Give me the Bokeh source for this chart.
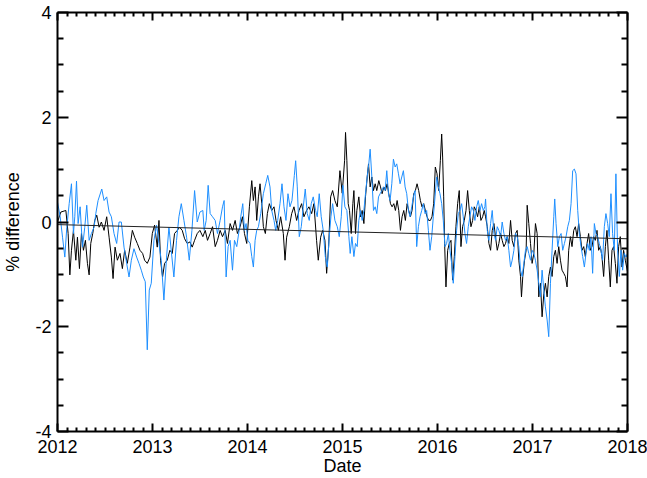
from bokeh.plotting import figure
from bokeh.models import LinearAxis, FixedTicker, Range1d, CustomLabelingPolicy
from bokeh.embed import file_html
from bokeh.resources import INLINE

# --- data: decimal year, % difference ---
black_pts = [
    (2012.000, 0.00), (2012.035, 0.19), (2012.088, 0.22), (2012.112, -0.22), (2012.130, -1.01),
    (2012.147, -0.54), (2012.168, -0.16), (2012.193, -0.73), (2012.210, -0.29), (2012.231, -0.89),
    (2012.252, -0.22), (2012.273, -0.54), (2012.294, -0.35), (2012.315, -0.79), (2012.333, -1.01),
    (2012.350, -0.41), (2012.371, -0.22), (2012.392, 0.03), (2012.413, 0.13), (2012.438, -0.10),
    (2012.462, 0.00), (2012.490, -0.16), (2012.518, 0.10), (2012.543, -0.29), (2012.567, -0.67),
    (2012.585, -1.08), (2012.606, -0.48), (2012.630, -0.73), (2012.658, -0.60), (2012.683, -0.89),
    (2012.707, -0.54), (2012.735, -0.79), (2012.763, -0.48), (2012.788, -0.16), (2012.812, -0.29),
    (2012.840, -0.41), (2012.868, -0.54), (2012.896, -0.60), (2012.917, -0.73), (2012.945, -0.79),
    (2012.973, -0.67), (2012.998, -0.22), (2013.022, -0.06), (2013.050, -0.48), (2013.068, 0.03),
    (2013.085, -0.73), (2013.106, -1.05), (2013.127, -0.79), (2013.155, -0.73), (2013.183, -0.54),
    (2013.208, -0.60), (2013.232, -0.22), (2013.261, -0.16), (2013.285, -0.10), (2013.313, -0.16),
    (2013.338, -0.32), (2013.366, -0.41), (2013.394, -0.38), (2013.418, -0.48), (2013.443, -0.35),
    (2013.471, -0.22), (2013.499, -0.16), (2013.530, -0.28), (2013.555, -0.16), (2013.579, -0.35),
    (2013.607, -0.22), (2013.632, -0.09), (2013.660, -0.47), (2013.684, -0.35), (2013.712, -0.16),
    (2013.737, -0.28), (2013.765, -0.16), (2013.789, -0.41), (2013.817, -0.03), (2013.842, -0.16),
    (2013.870, 0.03), (2013.894, -0.22), (2013.922, -0.09), (2013.947, 0.10), (2013.968, -0.22),
    (2013.992, -0.41), (2014.020, 0.29), (2014.045, 0.79), (2014.062, 0.41), (2014.080, 0.67),
    (2014.097, 0.03), (2014.115, 0.48), (2014.132, 0.73), (2014.150, 0.35), (2014.167, -0.09),
    (2014.188, -0.22), (2014.209, 0.16), (2014.230, 0.35), (2014.255, 0.22), (2014.279, 0.29),
    (2014.300, 0.03), (2014.325, -0.16), (2014.349, 0.10), (2014.377, -0.22), (2014.395, -0.73),
    (2014.412, -0.29), (2014.440, -0.09), (2014.465, 0.16), (2014.489, 0.29), (2014.517, 0.03),
    (2014.542, 0.22), (2014.570, 0.35), (2014.594, 0.10), (2014.622, 0.22), (2014.647, 0.29),
    (2014.675, 0.16), (2014.699, 0.35), (2014.727, -0.35), (2014.745, -0.73), (2014.770, -0.29),
    (2014.791, -0.16), (2014.815, -0.35), (2014.833, -0.98), (2014.854, -0.47), (2014.875, 0.48),
    (2014.896, 0.60), (2014.920, 0.41), (2014.945, 0.29), (2014.973, 0.98), (2014.997, 0.55),
    (2015.022, 1.17), (2015.032, 1.71), (2015.046, 1.17), (2015.060, 0.35), (2015.074, 0.22),
    (2015.092, -0.22), (2015.109, 0.35), (2015.120, 0.60), (2015.137, -0.22), (2015.151, 0.22),
    (2015.172, 0.48), (2015.190, 0.10), (2015.207, 0.22), (2015.225, -0.03), (2015.242, 0.48),
    (2015.260, 0.86), (2015.274, 1.11), (2015.291, 0.67), (2015.309, 0.86), (2015.326, 0.60),
    (2015.344, 0.73), (2015.361, 0.60), (2015.382, 0.79), (2015.400, 0.67), (2015.417, 0.54),
    (2015.435, 0.67), (2015.452, 0.60), (2015.470, 0.73), (2015.487, 0.54), (2015.505, 0.35),
    (2015.522, 0.29), (2015.540, 0.35), (2015.557, 0.22), (2015.575, 0.41), (2015.592, 0.22),
    (2015.610, -0.16), (2015.627, 0.10), (2015.645, 0.22), (2015.662, 0.03), (2015.680, 0.35),
    (2015.697, 0.22), (2015.715, 0.10), (2015.732, 0.22), (2015.750, 0.54), (2015.767, 0.60),
    (2015.785, 0.73), (2015.802, 0.60), (2015.820, 0.41), (2015.837, 0.29), (2015.855, 0.35),
    (2015.872, 0.22), (2015.890, 0.10), (2015.907, 0.03), (2015.925, 0.03), (2015.942, 0.10),
    (2015.960, 0.35), (2015.977, 1.05), (2015.995, 0.92), (2016.012, 0.60), (2016.030, 1.17),
    (2016.044, 1.68), (2016.054, 1.24), (2016.065, 0.48), (2016.075, -0.41), (2016.089, -1.24),
    (2016.107, -0.54), (2016.124, -0.41), (2016.142, -0.35), (2016.159, -1.11), (2016.177, -0.66),
    (2016.194, -0.09), (2016.212, 0.35), (2016.229, 0.60), (2016.247, -0.47), (2016.264, -0.09),
    (2016.282, 0.03), (2016.300, 0.22), (2016.317, 0.60), (2016.335, 0.22), (2016.352, -0.09),
    (2016.370, 0.03), (2016.387, 0.29), (2016.405, 0.22), (2016.422, 0.10), (2016.440, 0.29),
    (2016.457, 0.03), (2016.475, 0.10), (2016.492, 0.22), (2016.506, 0.10), (2016.524, -0.09),
    (2016.541, -0.41), (2016.559, -0.54), (2016.576, -0.16), (2016.594, -0.03), (2016.611, -0.29),
    (2016.629, -0.54), (2016.646, -0.41), (2016.664, -0.22), (2016.681, -0.35), (2016.699, -0.47),
    (2016.716, -0.41), (2016.734, -0.28), (2016.751, -0.41), (2016.769, 0.03), (2016.786, -0.35),
    (2016.804, -0.47), (2016.821, -0.22), (2016.839, -0.16), (2016.856, -0.73), (2016.874, -1.04),
    (2016.884, -1.43), (2016.898, -1.04), (2016.916, -0.73), (2016.933, -0.54), (2016.944, 0.32),
    (2016.961, -0.03), (2016.979, -0.41), (2016.996, -0.79), (2017.014, -0.60), (2017.031, -0.03),
    (2017.049, -0.22), (2017.066, -1.43), (2017.084, -1.17), (2017.101, -1.81), (2017.119, -1.37),
    (2017.136, -1.17), (2017.154, -1.43), (2017.171, -1.04), (2017.189, -0.86), (2017.206, -1.04),
    (2017.224, -0.66), (2017.241, -0.54), (2017.259, -0.79), (2017.276, -0.47), (2017.294, -0.73),
    (2017.311, -0.92), (2017.329, -0.98), (2017.346, -1.04), (2017.364, -1.24), (2017.381, -0.54),
    (2017.399, -0.28), (2017.416, -0.47), (2017.434, -0.16), (2017.451, -0.09), (2017.469, -0.28),
    (2017.486, -0.03), (2017.504, -0.28), (2017.521, -0.54), (2017.539, -0.47), (2017.556, -0.66),
    (2017.574, -0.41), (2017.591, -0.22), (2017.609, -0.54), (2017.626, -0.47), (2017.644, -0.28),
    (2017.661, -0.35), (2017.679, -0.16), (2017.696, -0.54), (2017.714, -0.47), (2017.731, -0.66),
    (2017.749, -1.04), (2017.767, -0.47), (2017.784, -0.16), (2017.802, -0.73), (2017.819, -1.24),
    (2017.837, -0.54), (2017.854, -0.47), (2017.872, -0.79), (2017.889, -1.17), (2017.907, -0.47),
    (2017.924, -0.28), (2017.942, -0.86), (2017.959, -0.54), (2017.977, -0.73), (2018.000, -0.95),
]

blue_pts = [
    (2012.000, 0.38), (2012.028, 0.10), (2012.053, -0.29), (2012.077, -0.67), (2012.098, -0.10),
    (2012.123, 0.35), (2012.147, 0.73), (2012.168, -0.22), (2012.182, 0.10), (2012.200, 0.78),
    (2012.217, -0.03), (2012.238, 0.29), (2012.263, -0.48), (2012.287, -0.10), (2012.308, 0.32),
    (2012.333, -0.35), (2012.357, -0.22), (2012.385, -0.10), (2012.403, 0.16), (2012.427, 0.41),
    (2012.466, 0.63), (2012.490, 0.41), (2012.518, 0.48), (2012.543, 0.19), (2012.567, 0.10),
    (2012.595, -0.22), (2012.623, -0.41), (2012.648, 0.00), (2012.672, 0.00), (2012.700, -0.48),
    (2012.728, -0.79), (2012.753, -1.05), (2012.777, -0.73), (2012.805, -0.51), (2012.833, -0.67),
    (2012.858, -0.79), (2012.882, -0.92), (2012.903, -1.05), (2012.924, -1.14), (2012.945, -2.44),
    (2012.966, -1.30), (2012.987, -1.17), (2013.015, -0.35), (2013.043, -0.06), (2013.068, -0.41),
    (2013.092, -0.73), (2013.120, -1.49), (2013.148, -0.67), (2013.173, -0.10), (2013.197, -0.54),
    (2013.225, -1.05), (2013.253, -0.35), (2013.278, 0.10), (2013.303, 0.35), (2013.331, 0.03),
    (2013.359, -0.29), (2013.387, -0.73), (2013.415, -0.16), (2013.443, 0.60), (2013.471, 0.00),
    (2013.499, 0.19), (2013.530, 0.22), (2013.544, -0.16), (2013.565, 0.03), (2013.586, 0.70),
    (2013.607, 0.16), (2013.632, 0.10), (2013.660, 0.03), (2013.684, -0.22), (2013.712, 0.03),
    (2013.737, 0.29), (2013.754, 0.41), (2013.775, -1.05), (2013.796, -0.47), (2013.817, -0.35),
    (2013.842, -0.92), (2013.863, -0.35), (2013.887, -0.47), (2013.912, -0.16), (2013.929, 0.10),
    (2013.950, 0.35), (2013.968, -0.16), (2013.985, -0.03), (2014.003, -0.35), (2014.027, -0.41),
    (2014.045, -0.66), (2014.062, -0.86), (2014.080, -0.35), (2014.097, -0.16), (2014.115, -0.09),
    (2014.139, 0.16), (2014.167, 0.54), (2014.192, 0.73), (2014.213, 0.89), (2014.237, 0.67),
    (2014.255, 0.22), (2014.279, 0.03), (2014.297, -0.16), (2014.318, 0.03), (2014.342, 0.35),
    (2014.363, 0.73), (2014.384, 0.29), (2014.405, 0.03), (2014.426, 0.54), (2014.447, 0.29),
    (2014.468, 0.41), (2014.493, 0.89), (2014.507, 1.17), (2014.524, 0.67), (2014.545, -0.28),
    (2014.566, -0.09), (2014.587, 0.29), (2014.608, 0.63), (2014.629, 0.16), (2014.650, 0.03),
    (2014.671, 0.35), (2014.692, 0.48), (2014.717, 0.22), (2014.734, 0.10), (2014.755, 0.54),
    (2014.776, 0.10), (2014.797, -0.16), (2014.819, -0.66), (2014.840, -0.86), (2014.861, -0.28),
    (2014.878, 0.10), (2014.896, 0.35), (2014.920, 0.03), (2014.945, -0.09), (2014.966, -0.28),
    (2014.987, 0.10), (2015.004, 0.70), (2015.025, 0.29), (2015.046, 0.22), (2015.067, -0.28),
    (2015.081, -0.60), (2015.099, -0.28), (2015.120, -0.66), (2015.137, -0.41), (2015.155, -0.47),
    (2015.172, 0.03), (2015.190, 0.22), (2015.207, 0.03), (2015.225, 0.22), (2015.242, 0.54),
    (2015.260, 0.86), (2015.277, 1.11), (2015.291, 1.39), (2015.309, 0.86), (2015.326, 0.22),
    (2015.344, 0.29), (2015.361, 0.16), (2015.379, 0.48), (2015.396, 0.54), (2015.414, 0.60),
    (2015.431, 0.67), (2015.449, 0.60), (2015.466, 0.98), (2015.484, 0.54), (2015.501, 0.41),
    (2015.519, 0.73), (2015.536, 1.20), (2015.554, 1.05), (2015.571, 1.11), (2015.589, 0.92),
    (2015.606, 0.73), (2015.624, 0.86), (2015.641, 0.98), (2015.659, 0.67), (2015.676, 0.54),
    (2015.694, 0.22), (2015.711, 0.10), (2015.729, 0.29), (2015.746, 0.48), (2015.764, 0.60),
    (2015.781, -0.47), (2015.799, -0.09), (2015.816, 0.10), (2015.834, 0.22), (2015.851, 0.35),
    (2015.869, 0.16), (2015.886, 0.22), (2015.904, -0.16), (2015.921, -0.54), (2015.939, -0.28),
    (2015.956, 0.10), (2015.974, 0.48), (2015.991, 0.86), (2016.009, 0.67), (2016.026, 0.54),
    (2016.044, 0.35), (2016.061, 0.03), (2016.079, -0.47), (2016.096, -0.41), (2016.114, -0.22),
    (2016.131, -0.54), (2016.149, -0.79), (2016.166, -1.17), (2016.184, -0.66), (2016.201, -0.16),
    (2016.219, 0.16), (2016.236, 0.22), (2016.254, 0.35), (2016.271, 0.10), (2016.289, -0.22),
    (2016.306, -0.41), (2016.324, -0.09), (2016.341, 0.10), (2016.359, 0.29), (2016.377, 0.22),
    (2016.394, 0.03), (2016.412, 0.29), (2016.429, 0.41), (2016.447, 0.22), (2016.464, 0.35),
    (2016.482, 0.22), (2016.499, 0.29), (2016.506, 0.44), (2016.524, -0.16), (2016.541, -0.35),
    (2016.559, -0.03), (2016.576, 0.22), (2016.594, -0.22), (2016.611, -0.35), (2016.629, -0.09),
    (2016.646, -0.16), (2016.664, -0.28), (2016.681, 0.00), (2016.699, -0.22), (2016.716, -0.35),
    (2016.734, -0.28), (2016.751, -0.54), (2016.769, -0.86), (2016.786, -0.73), (2016.804, -0.54),
    (2016.821, -0.22), (2016.839, -0.28), (2016.856, -0.47), (2016.874, -0.92), (2016.891, -1.04),
    (2016.909, -0.79), (2016.926, -0.54), (2016.944, -0.47), (2016.961, -0.60), (2016.979, -0.73),
    (2016.996, -0.54), (2017.014, -0.60), (2017.031, -0.73), (2017.049, -0.92), (2017.066, -1.17),
    (2017.084, -1.43), (2017.101, -0.92), (2017.119, -1.30), (2017.136, -1.62), (2017.154, -1.87),
    (2017.171, -2.19), (2017.189, -1.17), (2017.206, -0.54), (2017.224, 0.10), (2017.234, 0.44),
    (2017.248, -0.03), (2017.266, -0.47), (2017.283, -0.28), (2017.301, -0.22), (2017.318, -0.54),
    (2017.336, -0.41), (2017.353, -0.28), (2017.371, -0.09), (2017.388, 0.03), (2017.406, 0.35),
    (2017.423, 0.98), (2017.441, 1.01), (2017.458, 0.92), (2017.476, 0.22), (2017.493, -0.22),
    (2017.511, -0.47), (2017.528, -0.66), (2017.546, -0.86), (2017.563, -0.60), (2017.581, -0.41),
    (2017.598, -0.54), (2017.616, -0.28), (2017.633, -0.98), (2017.651, -0.03), (2017.668, -0.22),
    (2017.686, -0.28), (2017.703, -0.41), (2017.721, -0.54), (2017.738, -0.73), (2017.756, -0.09),
    (2017.773, 0.16), (2017.791, -0.03), (2017.808, -0.28), (2017.826, 0.54), (2017.843, -0.22),
    (2017.861, -0.54), (2017.878, 0.92), (2017.896, -0.54), (2017.914, -1.04), (2017.931, -0.54),
    (2017.949, -0.92), (2017.966, -0.60), (2017.984, -0.67), (2018.000, -0.60),
]

# linear trend of the difference
trend_years = [2012.0, 2018.0]
trend_values = [-0.05, -0.32]

x_major = [2012, 2013, 2014, 2015, 2016, 2017, 2018]
y_major = [-4, -2, 0, 2, 4]
y_major_labels = ["-4", "-2", "0", "2", "4"]
x_title = "Date"
y_title = "% difference"

FONT = "Liberation Sans"
FONT_SIZE = "18px"
BLUE = "#1e8fff"

black_t = [t for t, _ in black_pts]
black_v = [v for _, v in black_pts]
blue_t = [t for t, _ in blue_pts]
blue_v = [v for _, v in blue_pts]

p = figure(
    width=647, height=478,
    x_range=Range1d(2012, 2018), y_range=Range1d(-4, 4),
    output_backend="svg", toolbar_location=None,
    min_border_left=56, min_border_right=20,
    min_border_top=12, min_border_bottom=46,
)
p.grid.visible = False
p.outline_line_color = None
p.background_fill_color = "white"
p.border_fill_color = "white"

x_minor = [y + k / 10 for y in range(2012, 2018) for k in range(1, 10)]
y_minor = [v / 2 for v in range(-8, 9) if v % 4 != 0]

# hides every tick label on the mirrored (top/right) axes
no_labels = CustomLabelingPolicy(
    code="for (const i of Array.from(indices)) { indices.unset(i) } return indices"
)


def style(ax, major_len, minor_len, labels=True):
    ax.axis_line_width = 2
    ax.axis_line_color = "black"
    ax.major_tick_in = major_len
    ax.major_tick_out = 0
    ax.minor_tick_in = minor_len
    ax.minor_tick_out = 0
    ax.major_tick_line_width = 2
    ax.minor_tick_line_width = 2
    ax.major_tick_line_color = "black"
    ax.minor_tick_line_color = "black"
    if labels:
        ax.major_label_text_font = FONT
        ax.major_label_text_font_size = FONT_SIZE
        ax.major_label_text_color = "black"
        ax.axis_label_text_font = FONT
        ax.axis_label_text_font_size = FONT_SIZE
        ax.axis_label_text_font_style = "normal"
        ax.axis_label_text_color = "black"
    else:
        ax.major_label_text_font_size = "0px"
        ax.major_label_standoff = 0
        ax.major_label_policy = no_labels
        ax.axis_label = None


xb = p.xaxis[0]
xb.ticker = FixedTicker(ticks=x_major, minor_ticks=x_minor)
xb.axis_label = x_title
style(xb, 8, 4)
xb.major_label_standoff = 8
xb.axis_label_standoff = 0

yl = p.yaxis[0]
yl.ticker = FixedTicker(ticks=y_major, minor_ticks=y_minor)
yl.axis_label = y_title
yl.major_label_overrides = {v: s for v, s in zip(y_major, y_major_labels)}
style(yl, 11, 6)
yl.major_label_standoff = 6
yl.axis_label_standoff = 9

xt = LinearAxis(ticker=FixedTicker(ticks=x_major, minor_ticks=x_minor))
style(xt, 8, 4, labels=False)
p.add_layout(xt, "above")

yr = LinearAxis(ticker=FixedTicker(ticks=y_major, minor_ticks=y_minor))
style(yr, 11, 6, labels=False)
p.add_layout(yr, "right")

p.line(black_t, black_v, line_color="black", line_width=1.0)
p.line(blue_t, blue_v, line_color=BLUE, line_width=1.0)
p.line(trend_years, trend_values, line_color="#222222", line_width=1)

open("out.html", "w").write(file_html(p, INLINE))
